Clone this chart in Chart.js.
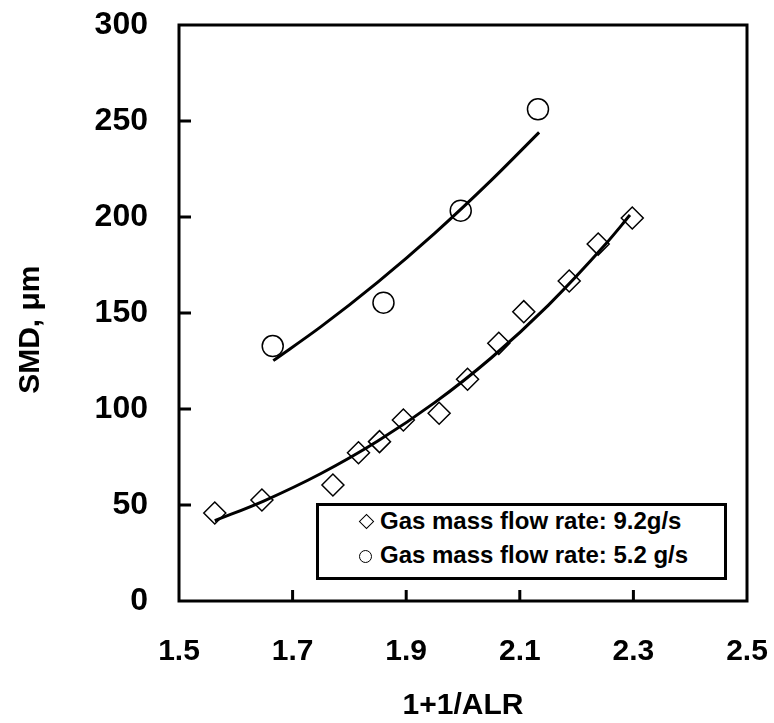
<!DOCTYPE html>
<html>
<head>
<meta charset="utf-8">
<script src="https://cdn.jsdelivr.net/npm/chart.js@4/dist/chart.umd.min.js"></script>
<style>
html,body{margin:0;padding:0;background:#fff;}
#wrap{position:relative;width:774px;height:723px;overflow:hidden;}
#c{position:absolute;left:0;top:0;}
#legend{position:absolute;left:316px;top:503px;width:411px;height:77px;box-sizing:border-box;border:3px solid #000;background:#fff;}
.lt{position:absolute;font:bold 24px "Liberation Sans",Arial,sans-serif;line-height:24px;color:#000;white-space:pre;}
.mk{position:absolute;box-sizing:border-box;border:1.5px solid #000;}
</style>
</head>
<body>
<div id="wrap">
<canvas id="c" width="774" height="723"></canvas>
<div id="legend"></div>
</div>
<script>
// ---- data ----
const xTickValues = [1.5, 1.7, 1.9, 2.1, 2.3, 2.5];
const yTickValues = [0, 50, 100, 150, 200, 250, 300];
const xTitle = "1+1/ALR";
const yTitle = "SMD, μm";

const series1Label = "Gas mass flow rate: 9.2g/s";
const series1X = [1.563, 1.646, 1.771, 1.816, 1.853, 1.895, 1.958, 2.008, 2.063, 2.107, 2.187, 2.238, 2.298];
const series1Y = [45.8, 52.6, 60.4, 77.2, 83.0, 94.3, 97.8, 115.5, 134.2, 150.7, 166.7, 185.9, 199.5];

const series2Label = "Gas mass flow rate: 5.2 g/s";
const series2X = [1.665, 1.860, 1.996, 2.132];
const series2Y = [132.8, 155.4, 203.3, 256.1];

// trend curves
const trend1X = [1.563, 1.65, 1.75, 1.85, 1.95, 2.05, 2.15, 2.25, 2.294];
const trend1Y = [41.8, 52.2, 66.4, 83.3, 103.3, 126.7, 154.0, 185.5, 201.0];
const trend2X = [1.666, 1.75, 1.85, 1.95, 2.05, 2.134];
const trend2Y = [125.2, 142.9, 166.1, 191.5, 219.2, 244.1];

const pts = (xs, ys) => xs.map((x, i) => ({x: x, y: ys[i]}));

const FONT = '"Liberation Sans", Arial, sans-serif';

const framePlugin = {
  id: 'frame',
  afterDatasetsDraw(chart) {
    const {ctx, chartArea: a, scales: {x, y}} = chart;
    ctx.save();
    ctx.strokeStyle = '#000';
    ctx.lineWidth = 3;
    ctx.strokeRect(a.left, a.top, a.right - a.left, a.bottom - a.top);
    ctx.beginPath();
    x.ticks.forEach(t => {
      const px = x.getPixelForValue(t.value);
      if (px > a.left + 2 && px < a.right - 2) { ctx.moveTo(px, a.bottom); ctx.lineTo(px, a.bottom - 11); }
    });
    y.ticks.forEach(t => {
      const py = y.getPixelForValue(t.value);
      if (py > a.top + 2 && py < a.bottom - 2) { ctx.moveTo(a.left, py); ctx.lineTo(a.left + 12, py); }
    });
    ctx.stroke();
    ctx.restore();
  }
};

function zeroPad(s) { s.paddingLeft = 0; s.paddingRight = 0; s.paddingTop = 0; s.paddingBottom = 0; }

const chart = new Chart(document.getElementById('c'), {
  type: 'scatter',
  data: {
    datasets: [
      {label: 'trend1', data: pts(trend1X, trend1Y), showLine: true, pointRadius: 0, borderColor: '#000', borderWidth: 3, cubicInterpolationMode: 'monotone', order: 0},
      {label: 'trend2', data: pts(trend2X, trend2Y), showLine: true, pointRadius: 0, borderColor: '#000', borderWidth: 3, cubicInterpolationMode: 'monotone', order: 0},
      {label: series1Label, data: pts(series1X, series1Y), pointStyle: 'rectRot', pointRadius: 11, pointBorderWidth: 1.5, pointBorderColor: '#000', pointBackgroundColor: 'rgba(255,255,255,0)', showLine: false, order: 1},
      {label: series2Label, data: pts(series2X, series2Y), pointStyle: 'circle', pointRadius: 10.5, pointBorderWidth: 1.5, pointBorderColor: '#000', pointBackgroundColor: 'rgba(255,255,255,0)', showLine: false, order: 1}
    ]
  },
  options: {
    responsive: false,
    animation: false,
    devicePixelRatio: 1,
    layout: {padding: {top: 25, right: 27, left: 0, bottom: 0}},
    plugins: {legend: {display: false}, tooltip: {enabled: false}},
    scales: {
      x: {
        type: 'linear', min: 1.5, max: 2.5,
        afterBuildTicks: s => { s.ticks = xTickValues.map(v => ({value: v})); },
        afterFit: s => { s.height = 122; zeroPad(s); },
        grid: {display: false, drawTicks: false},
        border: {display: false},
        ticks: {color: '#000', font: {family: FONT, size: 30, weight: 'bold'}, padding: 33, maxRotation: 0, callback: v => Number(v).toFixed(1)},
        title: {display: true, text: xTitle, color: '#000', font: {family: FONT, size: 30, weight: 'bold', lineHeight: 1.0}, padding: {top: 0, bottom: 2}}
      },
      y: {
        type: 'linear', min: 0, max: 300,
        afterBuildTicks: s => { s.ticks = yTickValues.map(v => ({value: v})); },
        afterFit: s => { s.width = 179; zeroPad(s); },
        grid: {display: false, drawTicks: false},
        border: {display: false},
        ticks: {color: '#000', font: {family: FONT, size: 32, weight: 'bold'}, padding: 31, callback: v => String(v)},
        title: {display: true, text: yTitle + '    ', color: '#000', font: {family: FONT, size: 30, weight: 'bold'}, padding: {top: 13, bottom: 0}}
      }
    }
  },
  plugins: [framePlugin]
});

// HTML legend (real text) built from the series labels
const wrap = document.getElementById('wrap');
function addText(txt, left, top) {
  const d = document.createElement('div');
  d.className = 'lt'; d.textContent = txt;
  d.style.left = left + 'px'; d.style.top = top + 'px';
  wrap.appendChild(d);
}
function addMarker(kind, cx, cy) {
  const d = document.createElement('div');
  d.className = 'mk';
  if (kind === 'diamond') {
    d.style.width = '11px'; d.style.height = '11px';
    d.style.left = (cx - 5.5) + 'px'; d.style.top = (cy - 5.5) + 'px';
    d.style.transform = 'rotate(45deg)';
  } else {
    d.style.width = '13px'; d.style.height = '13px';
    d.style.left = (cx - 6.5) + 'px'; d.style.top = (cy - 6.5) + 'px';
    d.style.borderRadius = '50%';
  }
  wrap.appendChild(d);
}
addMarker('diamond', 366, 521);
addText(series1Label, 380, 509);
addMarker('circle', 365, 556);
addText(series2Label, 380, 543);
</script>
</body>
</html>
